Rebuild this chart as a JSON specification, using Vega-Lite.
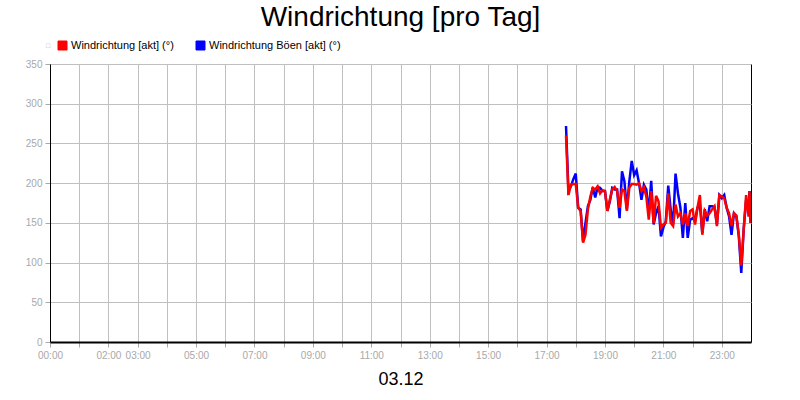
{
  "$schema": "https://vega.github.io/schema/vega-lite/v6.json",
  "width": 701,
  "height": 278,
  "autosize": {"type": "none"},
  "padding": {"left": 50, "top": 64, "right": 49, "bottom": 58},
  "background": "white",
  "title": {
    "text": "Windrichtung [pro Tag]",
    "font": "Liberation Sans",
    "fontSize": 28,
    "fontWeight": "normal",
    "color": "black",
    "anchor": "middle",
    "frame": "group",
    "offset": 8
  },
  "data": {
    "values": [
      {"t": "2023-12-03T17:40", "s": "R", "v": 260}, {"t": "2023-12-03T17:40", "s": "B", "v": 272},
      {"t": "2023-12-03T17:45", "s": "R", "v": 185}, {"t": "2023-12-03T17:45", "s": "B", "v": 190},
      {"t": "2023-12-03T17:50", "s": "R", "v": 198}, {"t": "2023-12-03T17:50", "s": "B", "v": 196},
      {"t": "2023-12-03T17:55", "s": "R", "v": 199}, {"t": "2023-12-03T17:55", "s": "B", "v": 205},
      {"t": "2023-12-03T18:00", "s": "R", "v": 199}, {"t": "2023-12-03T18:00", "s": "B", "v": 212},
      {"t": "2023-12-03T18:05", "s": "R", "v": 169}, {"t": "2023-12-03T18:05", "s": "B", "v": 169},
      {"t": "2023-12-03T18:10", "s": "R", "v": 165}, {"t": "2023-12-03T18:10", "s": "B", "v": 167},
      {"t": "2023-12-03T18:15", "s": "R", "v": 125}, {"t": "2023-12-03T18:15", "s": "B", "v": 127},
      {"t": "2023-12-03T18:20", "s": "R", "v": 135}, {"t": "2023-12-03T18:20", "s": "B", "v": 150},
      {"t": "2023-12-03T18:25", "s": "R", "v": 167}, {"t": "2023-12-03T18:25", "s": "B", "v": 171},
      {"t": "2023-12-03T18:30", "s": "R", "v": 183}, {"t": "2023-12-03T18:30", "s": "B", "v": 179},
      {"t": "2023-12-03T18:35", "s": "R", "v": 194}, {"t": "2023-12-03T18:35", "s": "B", "v": 195},
      {"t": "2023-12-03T18:40", "s": "R", "v": 192}, {"t": "2023-12-03T18:40", "s": "B", "v": 182},
      {"t": "2023-12-03T18:45", "s": "R", "v": 196}, {"t": "2023-12-03T18:45", "s": "B", "v": 195},
      {"t": "2023-12-03T18:50", "s": "R", "v": 187}, {"t": "2023-12-03T18:50", "s": "B", "v": 194},
      {"t": "2023-12-03T18:55", "s": "R", "v": 191}, {"t": "2023-12-03T18:55", "s": "B", "v": 190},
      {"t": "2023-12-03T19:00", "s": "R", "v": 190}, {"t": "2023-12-03T19:00", "s": "B", "v": 190},
      {"t": "2023-12-03T19:05", "s": "R", "v": 165}, {"t": "2023-12-03T19:05", "s": "B", "v": 165},
      {"t": "2023-12-03T19:10", "s": "R", "v": 179}, {"t": "2023-12-03T19:10", "s": "B", "v": 177},
      {"t": "2023-12-03T19:15", "s": "R", "v": 192}, {"t": "2023-12-03T19:15", "s": "B", "v": 194},
      {"t": "2023-12-03T19:20", "s": "R", "v": 195}, {"t": "2023-12-03T19:20", "s": "B", "v": 192},
      {"t": "2023-12-03T19:25", "s": "R", "v": 190}, {"t": "2023-12-03T19:25", "s": "B", "v": 192},
      {"t": "2023-12-03T19:30", "s": "R", "v": 169}, {"t": "2023-12-03T19:30", "s": "B", "v": 156},
      {"t": "2023-12-03T19:35", "s": "R", "v": 192}, {"t": "2023-12-03T19:35", "s": "B", "v": 215},
      {"t": "2023-12-03T19:40", "s": "R", "v": 190}, {"t": "2023-12-03T19:40", "s": "B", "v": 202},
      {"t": "2023-12-03T19:45", "s": "R", "v": 165}, {"t": "2023-12-03T19:45", "s": "B", "v": 167},
      {"t": "2023-12-03T19:50", "s": "R", "v": 194}, {"t": "2023-12-03T19:50", "s": "B", "v": 202},
      {"t": "2023-12-03T19:55", "s": "R", "v": 199}, {"t": "2023-12-03T19:55", "s": "B", "v": 228},
      {"t": "2023-12-03T20:00", "s": "R", "v": 199}, {"t": "2023-12-03T20:00", "s": "B", "v": 210},
      {"t": "2023-12-03T20:05", "s": "R", "v": 198}, {"t": "2023-12-03T20:05", "s": "B", "v": 216},
      {"t": "2023-12-03T20:10", "s": "R", "v": 200}, {"t": "2023-12-03T20:10", "s": "B", "v": 200},
      {"t": "2023-12-03T20:15", "s": "R", "v": 190}, {"t": "2023-12-03T20:15", "s": "B", "v": 179},
      {"t": "2023-12-03T20:20", "s": "R", "v": 195}, {"t": "2023-12-03T20:20", "s": "B", "v": 198},
      {"t": "2023-12-03T20:25", "s": "R", "v": 183}, {"t": "2023-12-03T20:25", "s": "B", "v": 192},
      {"t": "2023-12-03T20:30", "s": "R", "v": 154}, {"t": "2023-12-03T20:30", "s": "B", "v": 162},
      {"t": "2023-12-03T20:35", "s": "R", "v": 190}, {"t": "2023-12-03T20:35", "s": "B", "v": 203},
      {"t": "2023-12-03T20:40", "s": "R", "v": 150}, {"t": "2023-12-03T20:40", "s": "B", "v": 148},
      {"t": "2023-12-03T20:45", "s": "R", "v": 184}, {"t": "2023-12-03T20:45", "s": "B", "v": 162},
      {"t": "2023-12-03T20:50", "s": "R", "v": 177}, {"t": "2023-12-03T20:50", "s": "B", "v": 171},
      {"t": "2023-12-03T20:55", "s": "R", "v": 144}, {"t": "2023-12-03T20:55", "s": "B", "v": 133},
      {"t": "2023-12-03T21:00", "s": "R", "v": 148}, {"t": "2023-12-03T21:00", "s": "B", "v": 144},
      {"t": "2023-12-03T21:05", "s": "R", "v": 150}, {"t": "2023-12-03T21:05", "s": "B", "v": 152},
      {"t": "2023-12-03T21:10", "s": "R", "v": 187}, {"t": "2023-12-03T21:10", "s": "B", "v": 197},
      {"t": "2023-12-03T21:15", "s": "R", "v": 150}, {"t": "2023-12-03T21:15", "s": "B", "v": 167},
      {"t": "2023-12-03T21:20", "s": "R", "v": 146}, {"t": "2023-12-03T21:20", "s": "B", "v": 148},
      {"t": "2023-12-03T21:25", "s": "R", "v": 173}, {"t": "2023-12-03T21:25", "s": "B", "v": 212},
      {"t": "2023-12-03T21:30", "s": "R", "v": 158}, {"t": "2023-12-03T21:30", "s": "B", "v": 187},
      {"t": "2023-12-03T21:35", "s": "R", "v": 162}, {"t": "2023-12-03T21:35", "s": "B", "v": 169},
      {"t": "2023-12-03T21:40", "s": "R", "v": 148}, {"t": "2023-12-03T21:40", "s": "B", "v": 131},
      {"t": "2023-12-03T21:45", "s": "R", "v": 162}, {"t": "2023-12-03T21:45", "s": "B", "v": 175},
      {"t": "2023-12-03T21:50", "s": "R", "v": 146}, {"t": "2023-12-03T21:50", "s": "B", "v": 131},
      {"t": "2023-12-03T21:55", "s": "R", "v": 165}, {"t": "2023-12-03T21:55", "s": "B", "v": 154},
      {"t": "2023-12-03T22:00", "s": "R", "v": 167}, {"t": "2023-12-03T22:00", "s": "B", "v": 156},
      {"t": "2023-12-03T22:05", "s": "R", "v": 148}, {"t": "2023-12-03T22:05", "s": "B", "v": 152},
      {"t": "2023-12-03T22:10", "s": "R", "v": 169}, {"t": "2023-12-03T22:10", "s": "B", "v": 169},
      {"t": "2023-12-03T22:15", "s": "R", "v": 185}, {"t": "2023-12-03T22:15", "s": "B", "v": 173},
      {"t": "2023-12-03T22:20", "s": "R", "v": 135}, {"t": "2023-12-03T22:20", "s": "B", "v": 137},
      {"t": "2023-12-03T22:25", "s": "R", "v": 165}, {"t": "2023-12-03T22:25", "s": "B", "v": 167},
      {"t": "2023-12-03T22:30", "s": "R", "v": 159}, {"t": "2023-12-03T22:30", "s": "B", "v": 152},
      {"t": "2023-12-03T22:35", "s": "R", "v": 162}, {"t": "2023-12-03T22:35", "s": "B", "v": 171},
      {"t": "2023-12-03T22:40", "s": "R", "v": 167}, {"t": "2023-12-03T22:40", "s": "B", "v": 171},
      {"t": "2023-12-03T22:45", "s": "R", "v": 171}, {"t": "2023-12-03T22:45", "s": "B", "v": 170},
      {"t": "2023-12-03T22:50", "s": "R", "v": 146}, {"t": "2023-12-03T22:50", "s": "B", "v": 148},
      {"t": "2023-12-03T22:55", "s": "R", "v": 185}, {"t": "2023-12-03T22:55", "s": "B", "v": 185},
      {"t": "2023-12-03T23:00", "s": "R", "v": 183}, {"t": "2023-12-03T23:00", "s": "B", "v": 181},
      {"t": "2023-12-03T23:05", "s": "R", "v": 181}, {"t": "2023-12-03T23:05", "s": "B", "v": 185},
      {"t": "2023-12-03T23:10", "s": "R", "v": 169}, {"t": "2023-12-03T23:10", "s": "B", "v": 169},
      {"t": "2023-12-03T23:15", "s": "R", "v": 162}, {"t": "2023-12-03T23:15", "s": "B", "v": 158},
      {"t": "2023-12-03T23:20", "s": "R", "v": 146}, {"t": "2023-12-03T23:20", "s": "B", "v": 135},
      {"t": "2023-12-03T23:25", "s": "R", "v": 162}, {"t": "2023-12-03T23:25", "s": "B", "v": 162},
      {"t": "2023-12-03T23:30", "s": "R", "v": 159}, {"t": "2023-12-03T23:30", "s": "B", "v": 158},
      {"t": "2023-12-03T23:35", "s": "R", "v": 135}, {"t": "2023-12-03T23:35", "s": "B", "v": 133},
      {"t": "2023-12-03T23:40", "s": "R", "v": 96}, {"t": "2023-12-03T23:40", "s": "B", "v": 87},
      {"t": "2023-12-03T23:45", "s": "R", "v": 142}, {"t": "2023-12-03T23:45", "s": "B", "v": 142},
      {"t": "2023-12-03T23:50", "s": "R", "v": 185}, {"t": "2023-12-03T23:50", "s": "B", "v": 179},
      {"t": "2023-12-03T23:55", "s": "R", "v": 158}, {"t": "2023-12-03T23:55", "s": "B", "v": 167},
      {"t": "2023-12-03T23:57", "s": "R", "v": 190}, {"t": "2023-12-03T23:57", "s": "B", "v": 190},
      {"t": "2023-12-03T23:59", "s": "R", "v": 150}, {"t": "2023-12-03T23:59", "s": "B", "v": 150}
    ]
  },
  "transform": [
    {
      "calculate": "datum.s === 'R' ? 'Windrichtung [akt] (°)' : 'Windrichtung Böen [akt] (°)'",
      "as": "serie"
    }
  ],
  "encoding": {
    "x": {
      "field": "t",
      "type": "temporal",
      "title": "03.12",
      "scale": {
        "domain": [
          {"year": 2023, "month": 12, "date": 3, "hours": 0},
          {"year": 2023, "month": 12, "date": 4, "hours": 0}
        ]
      },
      "axis": {
        "values": [
          {"year": 2023, "month": 12, "date": 3, "hours": 0},
          {"year": 2023, "month": 12, "date": 3, "hours": 1},
          {"year": 2023, "month": 12, "date": 3, "hours": 2},
          {"year": 2023, "month": 12, "date": 3, "hours": 3},
          {"year": 2023, "month": 12, "date": 3, "hours": 4},
          {"year": 2023, "month": 12, "date": 3, "hours": 5},
          {"year": 2023, "month": 12, "date": 3, "hours": 6},
          {"year": 2023, "month": 12, "date": 3, "hours": 7},
          {"year": 2023, "month": 12, "date": 3, "hours": 8},
          {"year": 2023, "month": 12, "date": 3, "hours": 9},
          {"year": 2023, "month": 12, "date": 3, "hours": 10},
          {"year": 2023, "month": 12, "date": 3, "hours": 11},
          {"year": 2023, "month": 12, "date": 3, "hours": 12},
          {"year": 2023, "month": 12, "date": 3, "hours": 13},
          {"year": 2023, "month": 12, "date": 3, "hours": 14},
          {"year": 2023, "month": 12, "date": 3, "hours": 15},
          {"year": 2023, "month": 12, "date": 3, "hours": 16},
          {"year": 2023, "month": 12, "date": 3, "hours": 17},
          {"year": 2023, "month": 12, "date": 3, "hours": 18},
          {"year": 2023, "month": 12, "date": 3, "hours": 19},
          {"year": 2023, "month": 12, "date": 3, "hours": 20},
          {"year": 2023, "month": 12, "date": 3, "hours": 21},
          {"year": 2023, "month": 12, "date": 3, "hours": 22},
          {"year": 2023, "month": 12, "date": 3, "hours": 23}
        ],
        "labelExpr": "indexof('|0|2|3|5|7|9|11|13|15|17|19|21|23|', '|' + hours(datum.value) + '|') >= 0 ? timeFormat(datum.value, '%H:%M') : ''",
        "labelOverlap": false,
        "labelFlush": false,
        "domainWidth": 2,
        "titleFont": "Liberation Sans",
        "titleFontSize": 18,
        "titleFontWeight": "normal",
        "titleColor": "black",
        "titlePadding": 10
      }
    },
    "y": {
      "field": "v",
      "type": "quantitative",
      "title": null,
      "scale": {"domain": [0, 350]},
      "axis": {"values": [0, 50, 100, 150, 200, 250, 300, 350]}
    },
    "color": {
      "field": "serie",
      "type": "nominal",
      "scale": {
        "domain": ["Windrichtung [akt] (°)", "Windrichtung Böen [akt] (°)"],
        "range": ["#ff0000", "#0000ff"]
      },
      "legend": {
        "orient": "none",
        "legendX": -4,
        "legendY": -24,
        "direction": "horizontal",
        "title": "□",
        "titleOrient": "left",
        "titleFontSize": 7,
        "titleColor": "#b0b0b0",
        "titleFontWeight": "normal",
        "titlePadding": 6,
        "symbolType": "square",
        "symbolSize": 81,
        "symbolStrokeWidth": 1,
        "symbolStrokeColor": "black",
        "labelFont": "Liberation Sans",
        "labelFontSize": 11,
        "labelColor": "black",
        "labelOffset": 3,
        "columnPadding": 20,
        "encode": {
          "symbols": {
            "update": {
              "fill": {"scale": "color", "field": "value"},
              "fillOpacity": {"value": 1},
              "stroke": {"value": "black"}
            }
          }
        }
      }
    }
  },
  "layer": [
    {
      "transform": [{"filter": "datum.s === 'B'"}],
      "mark": {"type": "line", "strokeWidth": 2.5, "clip": true}
    },
    {
      "transform": [{"filter": "datum.s === 'R'"}],
      "mark": {"type": "line", "strokeWidth": 2.5, "clip": true}
    }
  ],
  "config": {
    "view": {"stroke": "black", "strokeWidth": 1},
    "axis": {
      "labelFont": "Liberation Sans",
      "labelFontSize": 10,
      "labelColor": "#a8a8a8",
      "gridColor": "#c0c0c0",
      "gridOpacity": 1,
      "tickColor": "#a8a8a8",
      "tickSize": 5,
      "labelPadding": 3,
      "domainColor": "black"
    }
  }
}
